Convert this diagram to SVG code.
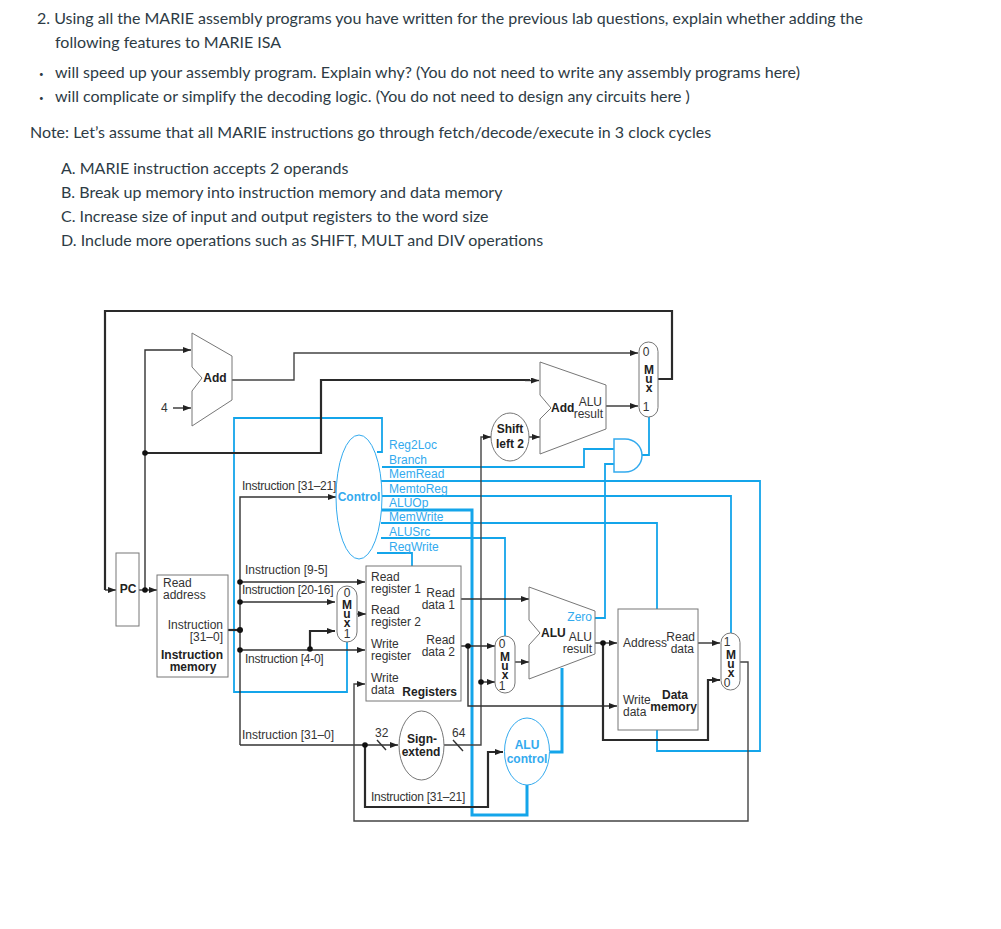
<svg xmlns="http://www.w3.org/2000/svg" width="1001" height="929" viewBox="0 0 1001 929">
<style>
text{font-family:"Liberation Sans",Arial,sans-serif;font-size:12px;fill:#333}
.p{font-family:Lato,"Liberation Sans",sans-serif;font-size:16px;fill:#2d3b45}
.d{font-family:Lato,"Liberation Sans",sans-serif;font-size:8px;fill:#2d3b45}
.w{letter-spacing:-0.25px}
.b{font-weight:bold;fill:#222}
.c{fill:#33aaee}
.m{text-anchor:middle}
.e{text-anchor:end}
.v{writing-mode:vertical-rl;text-orientation:upright;text-anchor:middle;font-weight:bold;fill:#222;letter-spacing:-5px}
.s{fill:#fff;stroke:#777;stroke-width:1}
.cs{fill:#fff;stroke:#33aaee;stroke-width:1}
.k,.k2,.g,.bl,.bt{fill:none}
.k{stroke:#333;stroke-width:1.4}
.k2{stroke:#2a2a2a;stroke-width:2.2}
.g{stroke:#444;stroke-width:1.4}
.bl{stroke:#14a5ea;stroke-width:1.8}
.bt{stroke:#14a5ea;stroke-width:3}
.dot{fill:#111}
.ar{fill:#222}
</style>
<defs>
<marker id="a" viewBox="0 0 8 6" refX="8" refY="3" markerWidth="8" markerHeight="6" markerUnits="userSpaceOnUse" orient="auto"><path d="M0 0L8 3L0 6Z" class="ar"/></marker>
</defs>
<g id="question">
<text class="p" x="37" y="24">2. Using all the MARIE assembly programs you have written for the previous lab questions, explain whether adding the</text>
<text class="p" x="55" y="48">following features to MARIE ISA</text>
<text class="d" x="39" y="77">•</text>
<text class="p" x="55" y="78">will speed up your assembly program. Explain why? (You do not need to write any assembly programs here)</text>
<text class="d" x="39" y="101">•</text>
<text class="p" x="55" y="102">will complicate or simplify the decoding logic. (You do not need to design any circuits here )</text>
<text class="p" x="30" y="138">Note: Let’s assume that all MARIE instructions go through fetch/decode/execute in 3 clock cycles</text>
<text class="p" x="61" y="174">A. MARIE instruction accepts 2 operands</text>
<text class="p" x="61" y="198">B. Break up memory into instruction memory and data memory</text>
<text class="p" x="61" y="222">C. Increase size of input and output registers to the word size</text>
<text class="p" x="61" y="246">D. Include more operations such as SHIFT, MULT and DIV operations</text>
</g>
<g id="connectors">
<path class="bl" d="M382 467H584V449H614M595 618H605V464H614M642 455H649V417"/>
<path class="bl" d="M377 452H382V418H234V692H347V642"/>
<path class="bl" d="M381 481H760V751H657V730"/>
<path class="bl" d="M381 496H731V633"/>
<path class="bt" d="M381 510H472V815H527V785"/>
<path class="bl" d="M381 523H657V609"/>
<path class="bl" d="M381 538H505V636"/>
<path class="bl" d="M377 553H412V566"/>
<path class="bt" d="M550 752H562V668"/>
<path class="k2" d="M105 590V311H672V379H658"/>
<path class="k" d="M105 590H116" marker-end="url(#a)"/>
<path class="k2" d="M145 453H321V380H530"/>
<path class="k" d="M525 380.500H539" marker-end="url(#a)"/>
<path class="k" d="M145 590V350H191" marker-end="url(#a)"/>
<path class="g" d="M232 380H294V353H638" marker-end="url(#a)"/>
<path class="k" d="M173 408H191" marker-end="url(#a)"/>
<path class="k" d="M139 590H157" marker-end="url(#a)"/>
<path class="k2" d="M228 630H240"/>
<path class="k" d="M240 745V497H336" marker-end="url(#a)"/>
<path class="k" d="M240 582H365" marker-end="url(#a)"/>
<path class="k" d="M240 602H335" marker-end="url(#a)"/>
<path class="k" d="M240 650H365" marker-end="url(#a)"/>
<path class="k2" d="M310 650V631H335" marker-end="url(#a)"/>
<path class="k" d="M357 614H366" marker-end="url(#a)"/>
<path class="k" d="M240 745H398" marker-end="url(#a)"/>
<path class="k2" d="M365 745V807H488V752H503" marker-end="url(#a)"/>
<path class="g" d="M444 745H481V437H491" marker-end="url(#a)"/>
<path class="k" d="M529 437H540" marker-end="url(#a)"/>
<path class="k" d="M606 406H638" marker-end="url(#a)"/>
<path class="k" d="M461 599H529" marker-end="url(#a)"/>
<path class="k" d="M461 646H495" marker-end="url(#a)"/>
<path class="k" d="M481 682H495" marker-end="url(#a)"/>
<path class="k" d="M515 662H529" marker-end="url(#a)"/>
<path class="k" d="M468 646V706H617" marker-end="url(#a)"/>
<path class="k" d="M595 643H617" marker-end="url(#a)"/>
<path class="k2" d="M603 643V740H708V680H720" marker-end="url(#a)"/>
<path class="k" d="M698 643H720" marker-end="url(#a)"/>
<path class="g" d="M740 662H748V821H354V684H365" marker-end="url(#a)"/>
<path class="k" d="M377 740L386 750M453 740L463 751"/>
<circle class="dot" cx="145" cy="453" r="2.8"/><circle class="dot" cx="145" cy="590" r="2.8"/>
<circle class="dot" cx="240" cy="582" r="2.8"/><circle class="dot" cx="240" cy="602" r="2.8"/><circle class="dot" cx="240" cy="630" r="3"/><circle class="dot" cx="240" cy="650" r="2.8"/><circle class="dot" cx="310" cy="649" r="2.8"/>
<circle class="dot" cx="365" cy="745" r="2.8"/><circle class="dot" cx="468" cy="646" r="2.8"/><circle class="dot" cx="481" cy="682" r="2.8"/><circle class="dot" cx="603" cy="643" r="2.8"/>
</g>
<g id="add1"><path class="s" d="M192 333L232 356V400L192 426V391L202 378L192 367Z"/><text class="b m" x="215" y="382">Add</text></g>
<text id="four" x="161" y="412">4</text>
<g id="pc"><rect class="s" x="116" y="553" width="23" height="73"/><text class="b m" x="128" y="593">PC</text></g>
<g id="imem"><rect class="s" x="157" y="575" width="71" height="102"/>
<text x="163" y="587">Read</text><text x="163" y="599">address</text>
<text class="e" x="223" y="629">Instruction</text><text class="e" x="223" y="641">[31–0]</text>
<text class="b e" x="223" y="659">Instruction</text><text class="b m" x="193" y="671">memory</text></g>
<g id="wirelabels">
<text class="w" x="242" y="490">Instruction [31–21]</text>
<text x="245" y="574">Instruction [9-5]</text>
<text class="w" x="242" y="594">Instruction [20-16]</text>
<text class="w" x="245" y="663">Instruction [4-0]</text>
<text x="242" y="739">Instruction [31–0]</text>
<text class="w" x="371" y="801">Instruction [31–21]</text>
<text x="375" y="737">32</text>
<text x="452" y="737">64</text>
</g>
<g id="control"><ellipse class="cs" cx="359" cy="497" rx="23" ry="62"/><text class="b c m" x="359" y="501">Control</text></g>
<g id="control-signals">
<text class="c" x="389" y="449">Reg2Loc</text>
<text class="c" x="389" y="464">Branch</text>
<text class="c" x="389" y="478">MemRead</text>
<text class="c" x="389" y="493">MemtoReg</text>
<text class="c" x="389" y="507">ALUOp</text>
<text class="c" x="389" y="521">MemWrite</text>
<text class="c" x="389" y="536">ALUSrc</text>
<text class="c" x="389" y="551">RegWrite</text>
</g>
<g id="mux-write"><rect class="s" x="337" y="586" width="20" height="56" rx="10"/><text class="m" x="347" y="597">0</text><text class="v" x="347" y="611">Mux</text><text class="m" x="347" y="638">1</text></g>
<g id="registers"><rect class="s" x="366" y="566" width="95" height="135"/>
<text x="371" y="581">Read</text><text x="371" y="593">register 1</text>
<text x="371" y="614">Read</text><text x="371" y="626">register 2</text>
<text x="371" y="648">Write</text><text x="371" y="660">register</text>
<text x="371" y="682">Write</text><text x="371" y="694">data</text>
<text class="e" x="455" y="597">Read</text><text class="e" x="455" y="609">data 1</text>
<text class="e" x="455" y="644">Read</text><text class="e" x="455" y="656">data 2</text>
<text class="b e" x="457" y="696">Registers</text></g>
<g id="sign-extend"><ellipse class="s" cx="421.5" cy="745.5" rx="22.5" ry="34.5"/><text class="b m" x="422" y="743">Sign-</text><text class="b m" x="421" y="756">extend</text></g>
<g id="shift-left"><ellipse class="s" cx="510" cy="437" rx="19" ry="24"/><text class="b m" x="510" y="433">Shift</text><text class="b m" x="510" y="448">left 2</text></g>
<g id="add2"><path class="s" d="M540 362L606 385V429L540 454V419L551 408L540 395Z"/><text class="b" x="551" y="412">Add</text><text class="e" x="602" y="406">ALU</text><text class="e" x="603" y="418">result</text></g>
<g id="and-gate"><path class="cs" style="stroke-width:1.5" d="M614 439H625A17 16.500 0 0 1 625 472H614Z"/></g>
<g id="mux-pc"><rect class="s" x="639" y="342" width="19" height="75" rx="9.500"/><text class="m" x="646" y="356">0</text><text class="v" x="649" y="376">Mux</text><text class="m" x="646" y="411">1</text></g>
<g id="mux-alu"><rect class="s" x="495" y="636" width="20" height="57" rx="10"/><text class="m" x="502" y="648">0</text><text class="v" x="505" y="663">Mux</text><text class="m" x="502" y="690">1</text></g>
<g id="alu"><path class="s" d="M529 587L595 611V654L529 679V645L540 633L529 620Z"/><text class="b" x="541" y="637">ALU</text><text class="c e" x="592" y="621">Zero</text><text class="e" x="592" y="641">ALU</text><text class="e" x="592" y="653">result</text></g>
<g id="alu-control"><ellipse class="cs" cx="527" cy="751.500" rx="22.500" ry="33.500"/><text class="b c m" x="527" y="749">ALU</text><text class="b c m" x="527" y="763">control</text></g>
<g id="dmem"><rect class="s" x="618" y="609" width="80" height="121"/>
<text x="623" y="647">Address</text><text class="e" x="695" y="641">Read</text><text class="e" x="694" y="653">data</text>
<text x="623" y="704">Write</text><text x="623" y="716">data</text><text class="b e" x="688" y="699">Data</text><text class="b e" x="697" y="711">memory</text></g>
<g id="mux-mem"><rect class="s" x="721" y="633" width="19" height="57" rx="9.500"/><text class="m" x="727" y="646">1</text><text class="v" x="731" y="661">Mux</text><text class="m" x="727" y="687">0</text></g>
</svg>
